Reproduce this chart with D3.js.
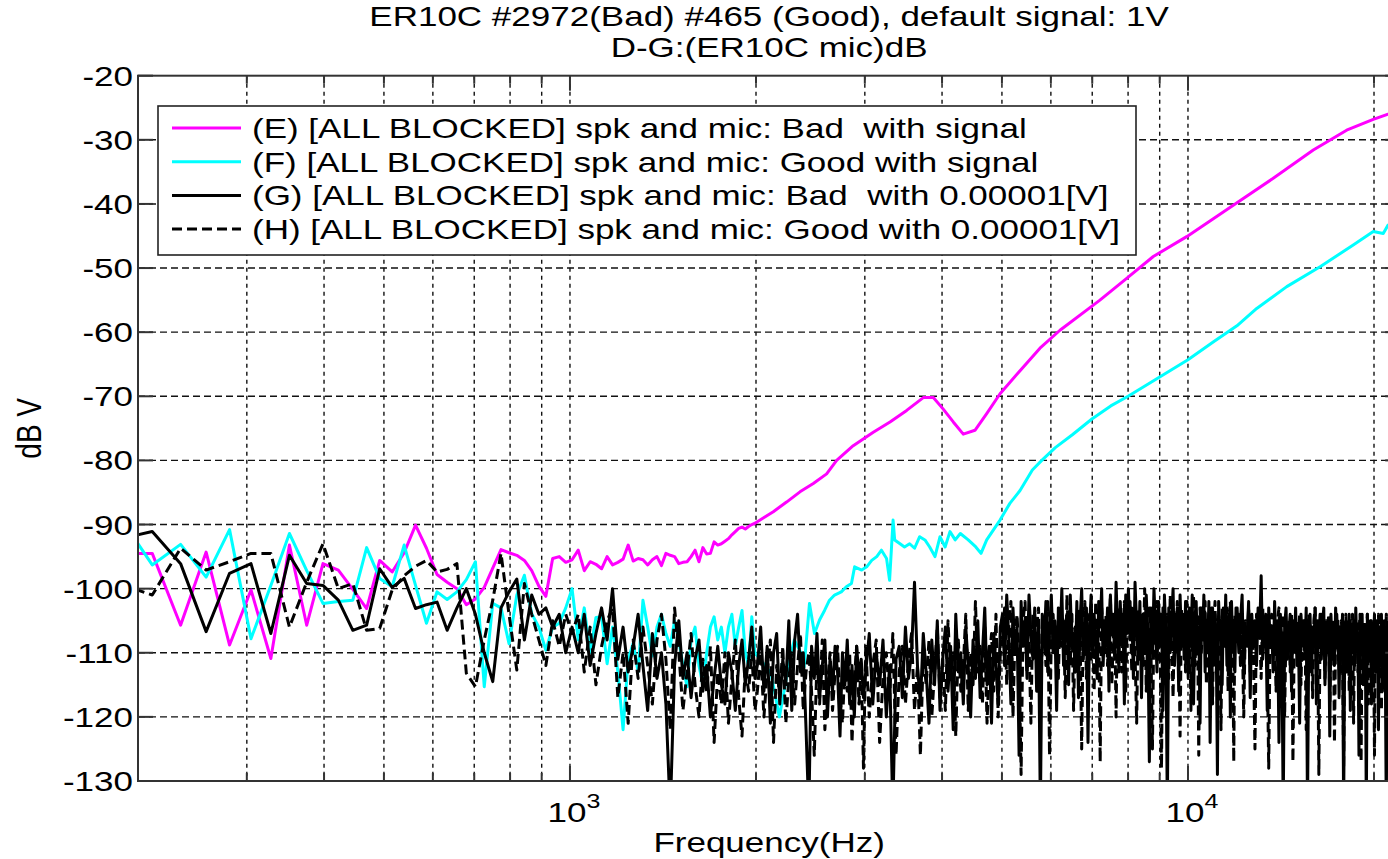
<!DOCTYPE html>
<html>
<head>
<meta charset="utf-8">
<script src="https://cdn.jsdelivr.net/npm/d3@7"></script>
<style>
  html, body { margin: 0; padding: 0; background: #fff; overflow: hidden; }
  svg { display: block; }
  text { font-family: "Liberation Sans", Arial, sans-serif; fill: #000; white-space: pre; }
</style>
</head>
<body>
<svg id="chart" width="1388" height="859"></svg>
<script>
// ---------------------------------------------------------------------------
// Data: spectra in dB V. Low band uses the FFT bin grid (48 kHz / 2048 points),
// the upper band is sampled more sparsely.
// ---------------------------------------------------------------------------
const lowBinHz = [
  187.5, 210.9, 234.4, 257.8, 281.3, 304.7, 328.1, 351.6, 375, 398.4,
  421.9, 445.3, 468.8, 492.2, 515.6, 539.1, 562.5, 585.9, 609.4, 632.8,
  656.3, 679.7, 703.1, 726.6, 750, 773.4, 796.9, 820.3, 843.8, 867.2,
  890.6, 914.1, 937.5, 960.9, 984.4, 1007.8, 1031.3, 1054.7, 1078.1, 1101.6,
  1125, 1148.4, 1171.9, 1195.3, 1218.8, 1242.2, 1265.6, 1289.1, 1312.5, 1335.9,
  1359.4, 1382.8, 1406.3, 1429.7, 1453.1, 1476.6, 1500, 1523.4, 1546.9, 1570.3,
  1593.8, 1617.2, 1640.6, 1664.1, 1687.5, 1710.9, 1734.4, 1757.8, 1781.3, 1804.7,
  1828.1, 1851.6, 1875, 1898.4, 1921.9, 1945.3, 1968.8, 1992.2
];

// (E) Bad, with signal
const lowE = [
  -94.5, -94.5, -105.7, -94.3, -108.8, -100.2, -110.9, -93.2, -105.7, -96.1,
  -97.1, -100.1, -103.1, -95.6, -97.4, -94.4, -90.1, -93.7, -97.8, -99.0,
  -100.0, -102.5, -101.6, -99.8, -96.8, -93.9, -94.4, -94.8, -95.6, -97.2,
  -99.6, -101.2, -95.3, -95.0, -95.9, -95.5, -94.0, -97.2, -95.8, -96.2,
  -96.9, -95.0, -96.3, -95.9, -95.4, -93.2, -95.7, -95.3, -95.5, -96.3,
  -95.5, -95.0, -96.4, -94.5, -94.8, -95.0, -96.1, -95.9, -95.8, -95.0,
  -94.0, -95.8, -93.6, -94.6, -94.5, -92.7, -93.2, -93.0, -92.6, -92.2,
  -91.6, -91.1, -90.6, -90.4, -90.7, -90.3, -90.0, -89.8
];
const eHighHz = [
  2133, 2241, 2356, 2476, 2602, 2701, 2873, 3096, 3295, 3506,
  3730, 3872, 4018, 4171, 4329, 4522, 4724, 4965, 5349, 5761,
  6207, 7203, 7958, 8788, 9952, 11839, 13740, 15950, 18060, 19945,
  21075, 22050
];
const eHigh = [
  -88.0, -86.5, -84.9, -83.6, -82.1, -80.0, -77.7, -75.6, -74.0, -72.2,
  -70.2, -70.2, -72.0, -74.0, -75.9, -75.3, -72.7, -69.6, -66.0, -62.5,
  -59.7, -55.0, -51.6, -48.2, -45.1, -40.2, -36.0, -31.6, -28.5, -26.8,
  -26.0, -25.5
];

// (F) Good, with signal
const lowF = [
  -89.0, -96.3, -93.1, -98.2, -90.8, -107.8, -99.5, -91.4, -97.2, -102.3,
  -102.0, -101.8, -93.6, -98.4, -99.7, -93.2, -99.5, -105.4, -100.5, -101.7,
  -100.5, -98.6, -95.8, -115.3, -102.3, -103.0, -108.6, -101.0, -97.9, -103.9,
  -106.0, -109.6, -106.0, -105.4, -103.0, -100.0, -108.0, -103.0, -110.0, -104.5,
  -104.4, -111.7, -106.0, -113.0, -122.0, -111.0, -108.5, -113.0, -101.8, -106.0,
  -110.5, -106.0, -104.0, -107.0, -109.0, -105.0, -108.0, -112.0, -115.3, -108.0,
  -106.0, -112.0, -115.0, -110.0, -106.0, -104.4, -108.0, -106.0, -110.0, -106.0,
  -104.0, -109.0, -106.0, -103.4, -110.0, -112.0, -104.4, -110.0
];
const fHighHz = [
  2115, 2182, 2227, 2273, 2307, 2366, 2393, 2441, 2487, 2534,
  2582, 2630, 2680, 2748, 2800, 2854, 2888, 2965, 3021, 3078,
  3136, 3192, 3253, 3290, 3333, 3353, 3420, 3478, 3545, 3611,
  3680, 3753, 3820, 3896, 3970, 4046, 4120, 4201, 4282, 4410,
  4536, 4625, 4724, 4965, 5150, 5349, 5600, 5800, 6100, 6500,
  7000, 7500, 8000, 9000, 10000, 11000, 12000, 12920, 14450, 16360,
  18510, 19945, 20700, 21075, 22050
];
const fHigh = [
  -113.2, -120.0, -115.3, -110.6, -108.0, -110.1, -112.2, -102.3, -107.0, -104.9,
  -103.4, -101.8, -101.0, -100.5, -99.7, -99.2, -96.6, -97.1, -96.6, -95.6,
  -95.0, -94.0, -95.3, -98.7, -89.3, -92.4, -93.0, -93.5, -93.0, -93.7,
  -91.9, -92.4, -93.5, -95.0, -91.9, -93.5, -91.1, -92.4, -91.4, -92.4,
  -93.5, -94.5, -92.4, -89.3, -86.7, -84.7, -81.5, -80.0, -78.0, -76.0,
  -73.5, -71.5, -70.0, -67.0, -64.3, -61.5, -59.0, -56.3, -52.9, -49.8,
  -46.4, -44.3, -44.6, -43.3, -42.5
];

// (G) Bad, 0.00001 V  and  (H) Good, 0.00001 V
const lowG = [
  -92.2, -91.1, -96.1, -106.7, -97.6, -96.1, -107.0, -94.8, -99.2, -99.5,
  -101.8, -106.5, -105.7, -96.9, -99.8, -98.4, -103.1, -102.5, -102.1, -106.5,
  -103.0, -100.0, -104.0, -110.0, -114.5, -103.0, -100.5, -98.5, -108.0, -101.0,
  -104.0, -103.0, -106.0, -104.0, -110.0, -106.0, -110.0, -104.0, -112.0, -107.0,
  -103.0, -108.0, -100.0, -111.0, -106.0, -113.0, -109.0, -104.0, -112.0, -119.0,
  -107.0, -114.0, -110.0, -118.0, -135.0, -112.0, -105.0, -114.0, -110.0, -117.0,
  -111.0, -108.0, -116.0, -112.0, -120.0, -114.0, -109.0, -115.0, -118.0, -110.0,
  -113.0, -119.0, -112.0, -108.0, -115.0, -111.0, -106.0, -114.0
];
const lowH = [
  -99.3, -101.0, -93.7, -97.1, -95.8, -94.5, -94.5, -106.0, -99.0, -93.0,
  -100.0, -99.2, -106.5, -106.2, -100.2, -98.0, -96.5, -95.6, -97.4, -97.0,
  -96.1, -113.2, -115.3, -108.0, -101.8, -94.5, -104.0, -112.7, -99.2, -104.0,
  -108.0, -112.0, -105.0, -109.0, -104.0, -107.0, -104.0, -113.0, -106.0, -115.0,
  -109.0, -105.0, -103.0, -117.0, -110.0, -121.0, -108.0, -114.0, -106.0, -112.0,
  -118.0, -108.0, -104.0, -111.0, -122.0, -103.0, -110.0, -119.0, -113.0, -107.0,
  -115.0, -120.0, -111.0, -116.0, -109.0, -124.0, -113.0, -118.0, -110.0, -121.0,
  -114.0, -108.0, -117.0, -123.0, -112.0, -116.0, -110.0, -119.0
];

// upper band of the two low-level traces
const noiseHz = [
  // 2-3 kHz
  2010, 2035, 2060, 2085, 2110, 2135, 2160, 2185, 2210, 2235,
  2260, 2285, 2310, 2335, 2360, 2385, 2410, 2435, 2460, 2485,
  2510, 2535, 2560, 2585, 2610, 2635, 2660, 2685, 2710, 2735,
  2760, 2785, 2810, 2835, 2860, 2885, 2910, 2935, 2960, 2985,
  // 3-5 kHz
  3010, 3050, 3090, 3130, 3170, 3210, 3250, 3290, 3330, 3370,
  3410, 3450, 3490, 3530, 3570, 3610, 3650, 3690, 3730, 3770,
  3810, 3850, 3890, 3930, 3970, 4010, 4050, 4090, 4130, 4170,
  4210, 4250, 4290, 4330, 4370, 4410, 4450, 4490, 4530, 4570,
  4610, 4650, 4690, 4730, 4770, 4810, 4850, 4890, 4930, 4970,
  // 5-8 kHz
  5010, 5050, 5090, 5130, 5170, 5210, 5250, 5290, 5330, 5370,
  5410, 5450, 5490, 5530, 5570, 5610, 5650, 5690, 5730, 5770,
  5810, 5850, 5890, 5930, 5970, 6010, 6050, 6090, 6130, 6170,
  6210, 6250, 6290, 6330, 6370, 6410, 6450, 6490, 6530, 6570,
  6610, 6650, 6690, 6730, 6770, 6810, 6850, 6890, 6930, 6970,
  7010, 7050, 7090, 7130, 7170, 7210, 7250, 7290, 7330, 7370,
  7410, 7450, 7490, 7530, 7570, 7610, 7650, 7690, 7730, 7770,
  7810, 7850, 7890, 7930, 7970,
  // 8-12 kHz
  8010, 8060, 8110, 8160, 8210, 8260, 8310, 8360, 8410, 8460,
  8510, 8560, 8610, 8660, 8710, 8760, 8810, 8860, 8910, 8960,
  9010, 9060, 9110, 9160, 9210, 9260, 9310, 9360, 9410, 9460,
  9510, 9560, 9610, 9660, 9710, 9760, 9810, 9860, 9910, 9960,
  10010, 10060, 10110, 10160, 10210, 10260, 10310, 10360, 10410, 10460,
  10510, 10560, 10610, 10660, 10710, 10760, 10810, 10860, 10910, 10960,
  11010, 11060, 11110, 11160, 11210, 11260, 11310, 11360, 11410, 11460,
  11510, 11560, 11610, 11660, 11710, 11760, 11810, 11860, 11910, 11960,
  // 12-21.5 kHz
  12010, 12085, 12160, 12235, 12310, 12385, 12460, 12535, 12610, 12685,
  12760, 12835, 12910, 12985, 13060, 13135, 13210, 13285, 13360, 13435,
  13510, 13585, 13660, 13735, 13810, 13885, 13960, 14035, 14110, 14185,
  14260, 14335, 14410, 14485, 14560, 14635, 14710, 14785, 14860, 14935,
  15010, 15085, 15160, 15235, 15310, 15385, 15460, 15535, 15610, 15685,
  15760, 15835, 15910, 15985, 16060, 16135, 16210, 16285, 16360, 16435,
  16510, 16585, 16660, 16735, 16810, 16885, 16960, 17035, 17110, 17185,
  17260, 17335, 17410, 17485, 17560, 17635, 17710, 17785, 17860, 17935,
  18010, 18085, 18160, 18235, 18310, 18385, 18460, 18535, 18610, 18685,
  18760, 18835, 18910, 18985, 19060, 19135, 19210, 19285, 19360, 19435,
  19510, 19585, 19660, 19735, 19810, 19885, 19960, 20035, 20110, 20185,
  20260, 20335, 20410, 20485, 20560, 20635, 20710, 20785, 20860, 20935,
  21010, 21085, 21160, 21235, 21310, 21385, 21460, 21535
];
const noiseG = [
  // 2-3 kHz
  -112, -106, -116, -109, -121, -110, -107, -118, -111, -115,
  -105, -119, -108, -104, -113, -110, -122, -135, -109, -114,
  -107, -117, -112, -108, -120, -111, -116, -109, -113, -123,
  -110, -115, -108, -118, -112, -120, -109, -114, -111, -117,
  // 3-5 kHz
  -113, -107, -118, -110, -115, -108, -120, -112, -135, -111,
  -109, -117, -106, -114, -110, -99, -112, -118, -107, -113,
  -121, -108, -115, -105, -119, -111, -106, -116, -109, -122,
  -104, -113, -110, -118, -106, -112, -120, -108, -114, -105,
  -117, -110, -103, -115, -109, -121, -107, -112, -118, -106,
  // 5-8 kHz
  -104, -112, -101, -108, -118, -103, -110, -106, -126, -102,
  -109, -105, -114, -101, -107, -111, -103, -116, -106, -135,
  -104, -109, -102, -113, -107, -101, -110, -105, -119, -103,
  -108, -100, -112, -106, -104, -115, -101, -109, -107, -113,
  -102, -117, -105, -100, -111, -107, -103, -124, -106, -101,
  -110, -104, -108, -114, -102, -106, -100, -112, -105, -109,
  -103, -116, -101, -107, -104, -111, -99, -106, -113, -102,
  -108, -104, -118, -101, -107,
  // 8-12 kHz
  -100, -108, -103, -114, -99, -106, -111, -102, -117, -104,
  -109, -101, -107, -127, -103, -110, -100, -106, -113, -102,
  -108, -104, -119, -101, -107, -135, -103, -110, -105, -100,
  -112, -106, -103, -116, -101, -108, -104, -111, -102, -107,
  -114, -103, -109, -101, -118, -105, -102, -110, -106, -121,
  -103, -108, -101, -113, -105, -110, -102, -124, -106, -103,
  -111, -104, -108, -129, -102, -107, -105, -115, -103, -109,
  -101, -112, -106, -104, -120, -102, -108, -105, -113, -103,
  // 12-21.5 kHz
  -103, -110, -105, -101, -114, -106, -108, -102, -117, -104,
  -109, -105, -112, -103, -107, -98, -111, -106, -104, -119,
  -103, -108, -106, -113, -102, -110, -105, -124, -104, -108,
  -135, -106, -103, -111, -107, -104, -116, -105, -109, -103,
  -112, -106, -121, -104, -108, -105, -110, -103, -135, -107,
  -104, -113, -106, -109, -103, -118, -105, -108, -104, -111,
  -106, -103, -115, -107, -110, -105, -123, -104, -109, -106,
  -112, -103, -108, -105, -117, -106, -110, -104, -135, -107,
  -105, -113, -108, -104, -119, -106, -110, -105, -112, -103,
  -109, -107, -126, -105, -110, -104, -115, -108, -106, -135,
  -104, -111, -107, -105, -118, -106, -109, -104, -113, -107,
  -105, -122, -106, -110, -104, -116, -108, -105, -112, -135,
  -106, -109, -104, -114, -107, -105, -111, -106
];
const noiseH = [
  // 2-3 kHz
  -116, -110, -120, -113, -108, -124, -112, -117, -109, -121,
  -114, -110, -118, -112, -107, -119, -113, -110, -116, -126,
  -111, -118, -108, -122, -115, -110, -119, -113, -109, -117,
  -121, -112, -116, -110, -124, -114, -109, -118, -112, -128,
  // 3-5 kHz
  -109, -120, -112, -108, -124, -114, -110, -117, -107, -126,
  -113, -109, -118, -111, -107, -119, -112, -126, -110, -115,
  -108, -120, -113, -106, -117, -111, -119, -105, -114, -110,
  -123, -108, -116, -112, -104, -119, -110, -115, -102, -113,
  -109, -118, -106, -121, -111, -107, -116, -104, -120, -110,
  // 5-8 kHz
  -108, -103, -115, -106, -102, -120, -107, -104, -111, -129,
  -105, -102, -113, -108, -121, -104, -110, -106, -103, -117,
  -109, -105, -112, -102, -126, -107, -104, -110, -106, -114,
  -103, -109, -105, -117, -101, -108, -112, -104, -119, -106,
  -110, -103, -107, -125, -105, -102, -114, -108, -104, -111,
  -106, -116, -102, -109, -105, -127, -103, -107, -110, -104,
  -112, -106, -101, -115, -108, -104, -120, -103, -109, -105,
  -113, -107, -102, -116, -106,
  // 8-12 kHz
  -106, -102, -113, -105, -110, -121, -103, -108, -104, -112,
  -100, -116, -106, -103, -109, -125, -104, -107, -102, -111,
  -105, -128, -103, -109, -106, -104, -114, -101, -108, -117,
  -104, -110, -102, -106, -123, -103, -109, -105, -113, -102,
  -107, -104, -119, -106, -101, -112, -108, -104, -126, -103,
  -110, -105, -107, -102, -115, -106, -104, -110, -103, -118,
  -106, -102, -113, -107, -104, -111, -122, -103, -108, -105,
  -109, -103, -116, -106, -102, -110, -105, -127, -104, -108,
  // 12-21.5 kHz
  -107, -104, -112, -106, -120, -105, -109, -103, -113, -106,
  -110, -125, -104, -108, -106, -114, -103, -109, -105, -111,
  -128, -106, -104, -110, -107, -116, -105, -103, -112, -108,
  -104, -120, -106, -109, -105, -113, -104, -127, -107, -110,
  -105, -108, -104, -115, -106, -111, -105, -122, -107, -104,
  -109, -106, -117, -105, -103, -112, -108, -129, -106, -104,
  -110, -107, -114, -105, -109, -104, -118, -106, -111, -105,
  -124, -107, -104, -110, -106, -113, -105, -108, -128, -106,
  -104, -111, -107, -116, -105, -109, -104, -121, -106, -110,
  -105, -113, -107, -104, -127, -106, -109, -105, -112, -108,
  -104, -118, -106, -110, -105, -114, -107, -126, -105, -109,
  -106, -104, -111, -107, -119, -105, -110, -106, -113, -104,
  -108, -123, -106, -110, -105, -115, -107, -109
];

// Axes, ticks and labels
const yTickValues = [-130, -120, -110, -100, -90, -80, -70, -60, -50, -40, -30, -20];
const xGridHz = [200, 300, 400, 500, 600, 700, 800, 900, 1000, 2000, 3000, 4000,
                 5000, 6000, 7000, 8000, 9000, 10000, 20000];
const xMajorHz = [1000, 10000];
const xMajorExp = ["3", "4"];
const titleLines = ["ER10C #2972(Bad) #465 (Good), default signal: 1V", "D-G:(ER10C mic)dB"];
const xLabel = "Frequency(Hz)";
const yLabel = "dB V";
const legendNames = [
  "(E) [ALL BLOCKED] spk and mic: Bad  with signal",
  "(F) [ALL BLOCKED] spk and mic: Good with signal",
  "(G) [ALL BLOCKED] spk and mic: Bad  with 0.00001[V]",
  "(H) [ALL BLOCKED] spk and mic: Good with 0.00001[V]"
];
const seriesColors = ["#ff00ff", "#00ffff", "#000000", "#000000"];
const seriesDash = [null, null, null, "10,5"];

// ---------------------------------------------------------------------------
const svg = d3.select("#chart");
const plot = { left: 138, right: 1400.2, top: 75.7, bottom: 781 };
const TX = 1.25;           // horizontal stretch applied to all lettering
const FONT = 28;

const x = d3.scaleLog().domain([200, 22050]).range([plot.left, plot.right]);
const y = d3.scaleLinear().domain([-130, -20]).range([plot.bottom, plot.top]);

const pairs = (hz, db) => hz.map((f, i) => [f, db[i]]);
const series = [
  pairs(lowBinHz, lowE).concat(pairs(eHighHz, eHigh)),
  pairs(lowBinHz, lowF).concat(pairs(fHighHz, fHigh)),
  pairs(lowBinHz, lowG).concat(pairs(noiseHz, noiseG)),
  pairs(lowBinHz, lowH).concat(pairs(noiseHz, noiseH))
];

function stretchedText(parent, px, py, str, anchor, size, rot) {
  const g = parent.append("g")
    .attr("transform", `translate(${px},${py}) scale(${TX},1)` + (rot ? ` rotate(${rot})` : ""));
  return g.append("text")
    .attr("text-anchor", anchor)
    .attr("font-size", size || FONT)
    .text(str);
}

// clip region for the traces
svg.append("defs").append("clipPath").attr("id", "plotClip")
  .append("rect")
  .attr("x", plot.left).attr("y", plot.top)
  .attr("width", plot.right - plot.left).attr("height", plot.bottom - plot.top);

// grid
const grid = svg.append("g").attr("stroke", "#111").attr("stroke-width", 1.4).attr("fill", "none");
grid.selectAll("line.h").data(yTickValues.slice(1, -1)).join("line")
  .attr("x1", plot.left).attr("x2", plot.right)
  .attr("y1", d => y(d)).attr("y2", d => y(d))
  .attr("stroke-dasharray", "7,4");
grid.selectAll("line.v").data(xGridHz.slice(1)).join("line")
  .attr("x1", d => x(d)).attr("x2", d => x(d))
  .attr("y1", plot.top).attr("y2", plot.bottom)
  .attr("stroke-dasharray", "4,4");

// traces
const line = d3.line().x(d => x(d[0])).y(d => y(d[1]));
const traces = svg.append("g").attr("clip-path", "url(#plotClip)");
series.forEach((s, i) => {
  traces.append("path")
    .datum(s)
    .attr("d", line)
    .attr("fill", "none")
    .attr("stroke", seriesColors[i])
    .attr("stroke-width", 3)
    .attr("stroke-linejoin", "round")
    .attr("stroke-dasharray", seriesDash[i]);
});

// axis box and ticks
const axis = svg.append("g").attr("stroke", "#333").attr("stroke-width", 2).attr("fill", "none");
axis.append("rect")
  .attr("x", plot.left).attr("y", plot.top)
  .attr("width", plot.right - plot.left).attr("height", plot.bottom - plot.top);
yTickValues.forEach(v => {
  axis.append("line").attr("x1", plot.left).attr("x2", plot.left + 15).attr("y1", y(v)).attr("y2", y(v));
  axis.append("line").attr("x1", plot.right).attr("x2", plot.right - 15).attr("y1", y(v)).attr("y2", y(v));
});
xGridHz.forEach(f => {
  const len = xMajorHz.includes(f) ? 15 : 8;
  axis.append("line").attr("x1", x(f)).attr("x2", x(f)).attr("y1", plot.top).attr("y2", plot.top + len);
  axis.append("line").attr("x1", x(f)).attr("x2", x(f)).attr("y1", plot.bottom).attr("y2", plot.bottom - len);
});

// tick labels
yTickValues.forEach(v => stretchedText(svg, 133, y(v) + 10, String(v), "end"));
xMajorHz.forEach((f, i) => {
  const t = stretchedText(svg, x(f) + 4, 822, "", "middle");
  t.append("tspan").text("10");
  t.append("tspan").attr("font-size", 20).attr("dy", -14).text(xMajorExp[i]);
});

// titles
const cx = (plot.left + plot.right) / 2;
stretchedText(svg, cx, 26, titleLines[0], "middle");
stretchedText(svg, cx, 57, titleLines[1], "middle");
stretchedText(svg, cx, 852, xLabel, "middle");
stretchedText(svg, 41, (plot.top + plot.bottom) / 2, yLabel, "middle", FONT, -90);

// legend
const lg = svg.append("g");
lg.append("rect").attr("x", 158).attr("y", 106).attr("width", 978).attr("height", 149)
  .attr("fill", "#fff").attr("stroke", "#222").attr("stroke-width", 1.6);
legendNames.forEach((name, i) => {
  const cy = 128 + i * 33.7;
  lg.append("line").attr("x1", 172).attr("x2", 241).attr("y1", cy).attr("y2", cy)
    .attr("stroke", seriesColors[i]).attr("stroke-width", 3)
    .attr("stroke-dasharray", seriesDash[i]);
  stretchedText(lg, 252, cy + 10, name, "start");
});
</script>
</body>
</html>
